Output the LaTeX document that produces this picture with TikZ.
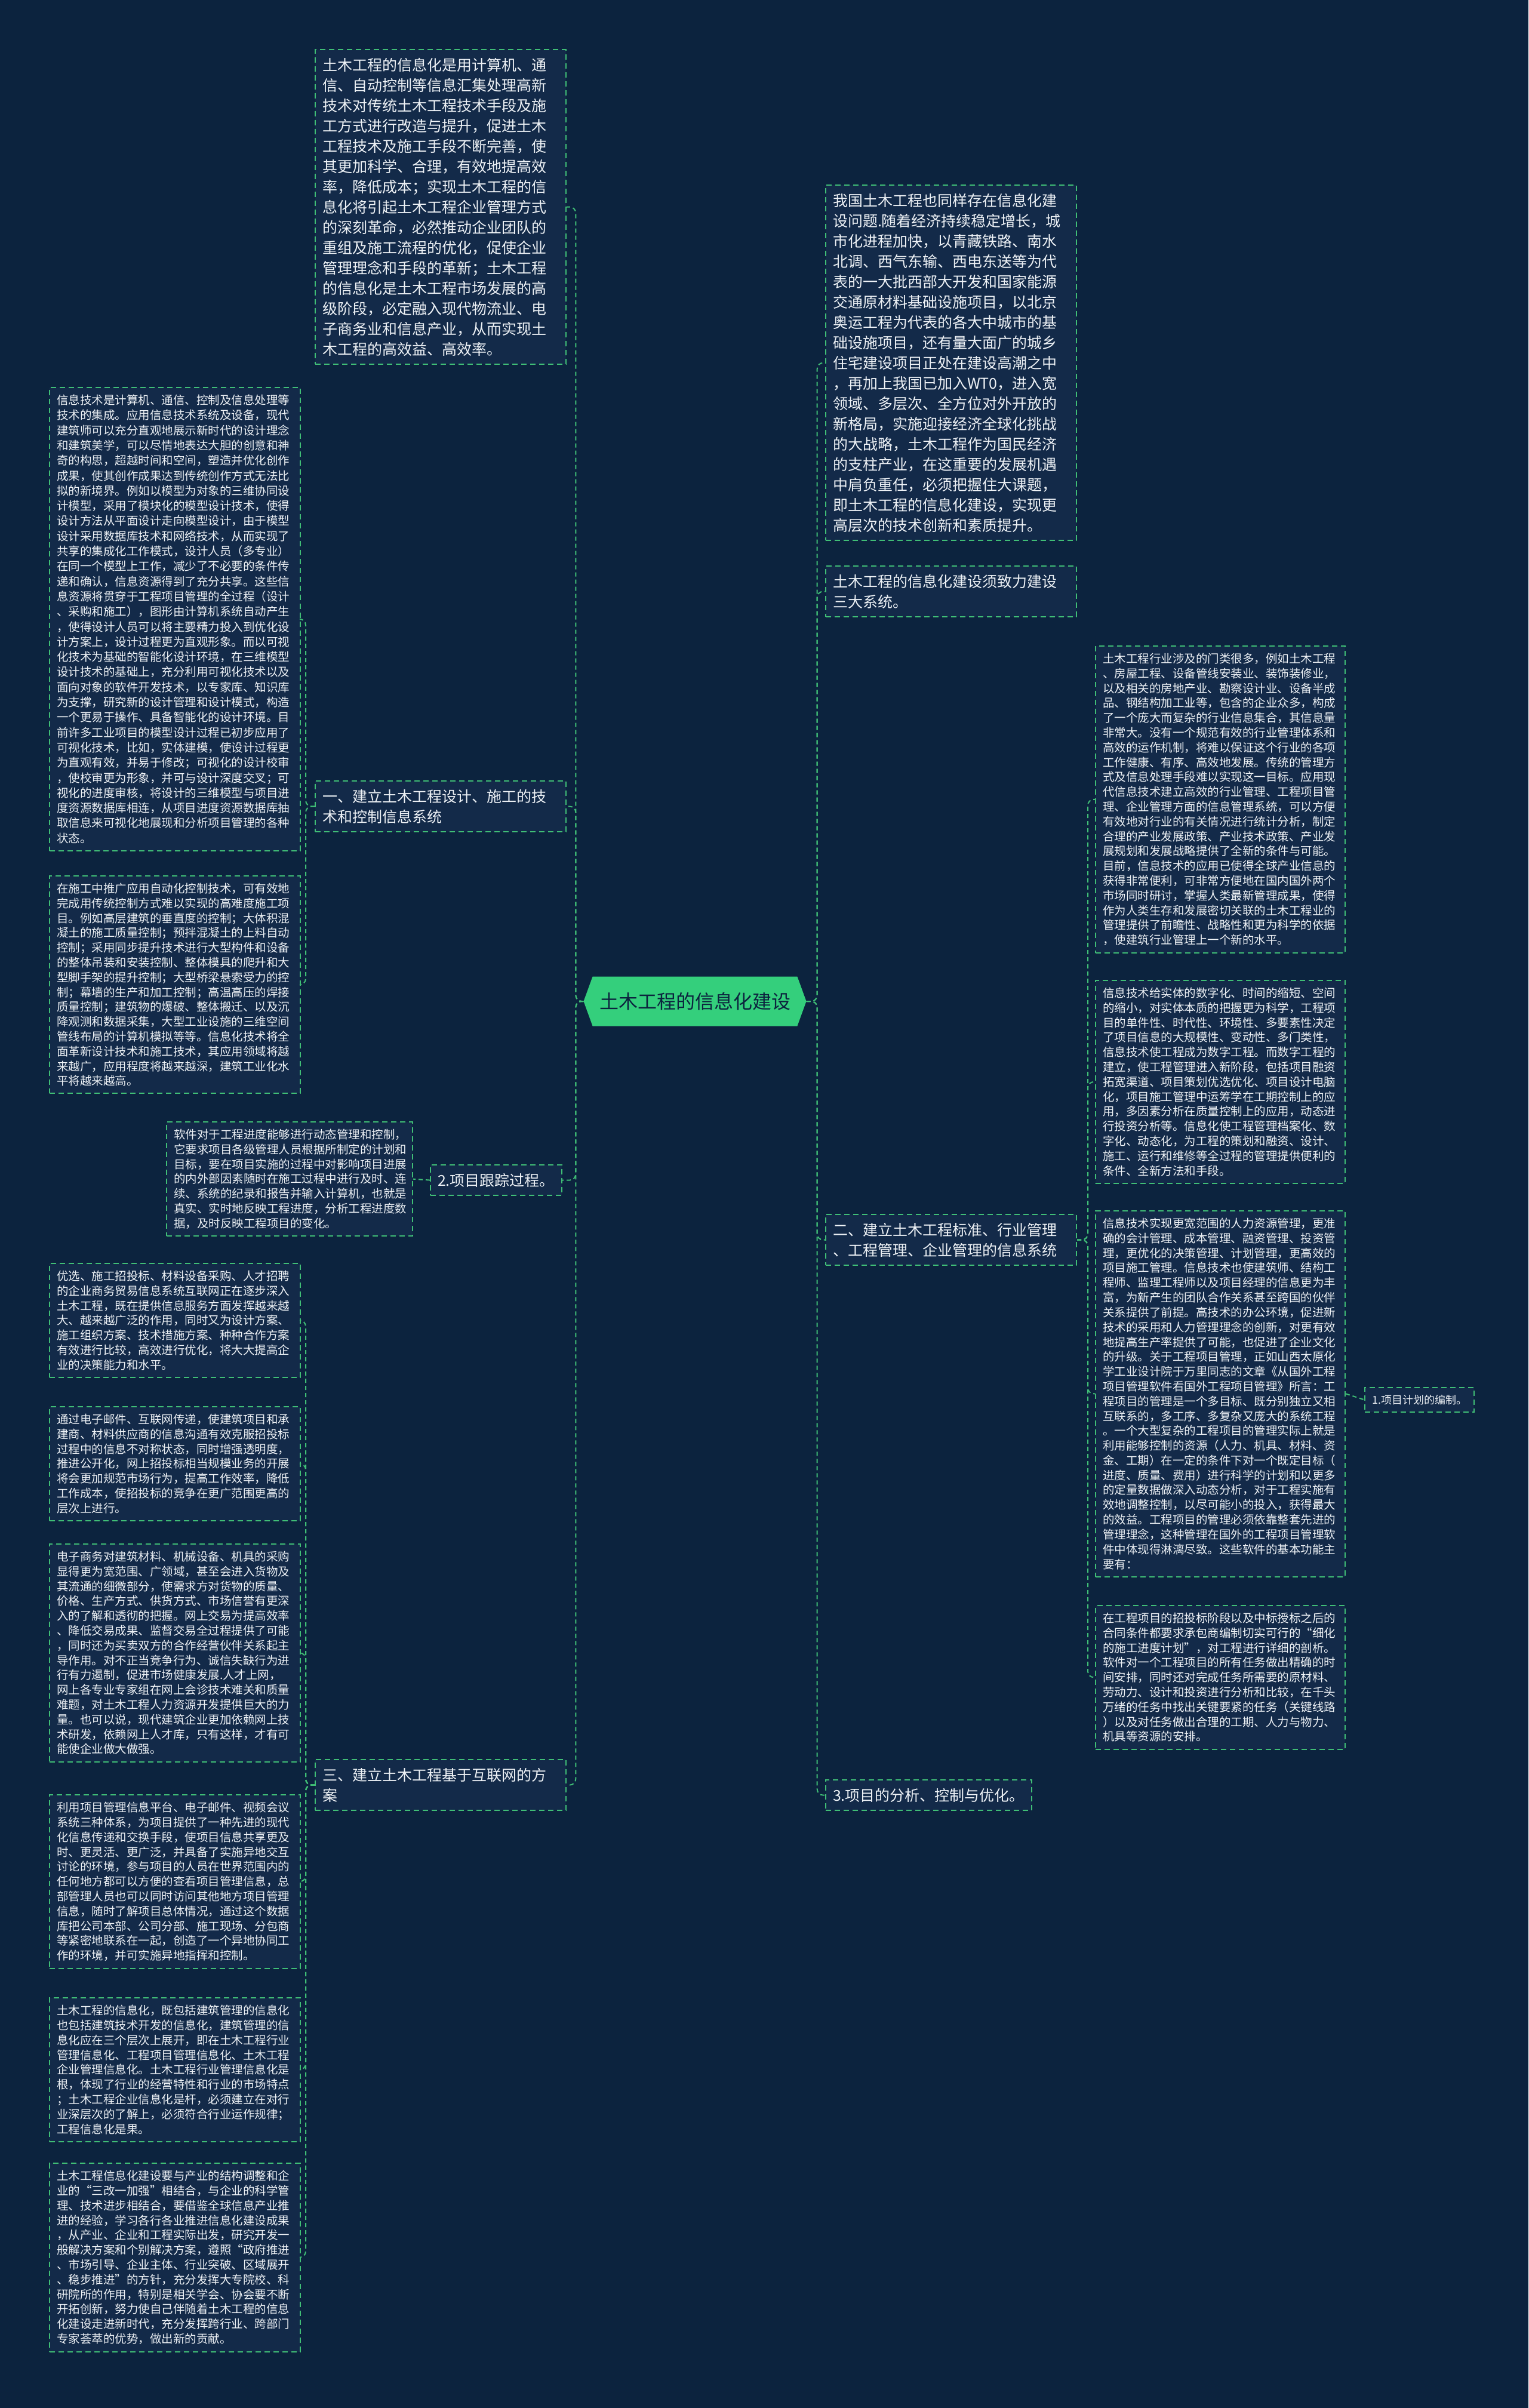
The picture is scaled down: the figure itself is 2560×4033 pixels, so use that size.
\documentclass[tikz,border=0pt]{standalone}
\usepackage{fontspec}
\newfontfamily\zhfont{Noto Sans CJK SC}
\usetikzlibrary{shapes.symbols}
\definecolor{bgnavy}{RGB}{12,35,62}
\definecolor{cardnavy}{RGB}{19,42,73}
\definecolor{linegreen}{RGB}{64,190,118}
\definecolor{hubgreen}{RGB}{52,207,124}
\definecolor{txtwhite}{RGB}{238,242,246}

\begin{document}
\begin{tikzpicture}[
  x=1pt, y=-1pt,
  every node/.style={text=txtwhite},
  hub/.style={shape=signal, signal to=east and west, signal pointer angle=140, fill=hubgreen, text=bgnavy, font={\zhfont\fontsize{32}{36}\selectfont}, minimum width=373pt, minimum height=83pt, inner sep=0pt},
  card/.style={draw=linegreen, fill=cardnavy, line width=2pt, dash pattern=on 9pt off 6pt, anchor=north west, align=left, inner xsep=12pt, inner ysep=12pt},
  bigcard/.style={card, text width=396pt, inner ysep=14pt, font={\zhfont\fontsize{25}{34}\selectfont}},
  labelcard/.style={card, inner ysep=14pt, font={\zhfont\fontsize{25}{34}\selectfont}},
  smallcard/.style={card, text width=396pt, font={\zhfont\fontsize{19.5}{24.8}\selectfont}},
  tinycard/.style={card, font={\zhfont\fontsize{18}{22}\selectfont}},
  conn/.style={draw=linegreen, line width=2pt, dash pattern=on 7pt off 5pt, rounded corners=10pt}
]
  \fill[bgnavy] (0,0) rectangle (2560,4033);
  \useasboundingbox (0,0) rectangle (2560,4033);

  \node[hub] (root) at (1164,1677) {土木工程的信息化建设};

  \node[bigcard] (lead) at (527,82) {土木工程的信息化是用计算机、通\\信、自动控制等信息汇集处理高新\\技术对传统土木工程技术手段及施\\工方式进行改造与提升，促进土木\\工程技术及施工手段不断完善，使\\其更加科学、合理，有效地提高效\\率，降低成本；实现土木工程的信\\息化将引起土木工程企业管理方式\\的深刻革命，必然推动企业团队的\\重组及施工流程的优化，促使企业\\管理理念和手段的革新；土木工程\\的信息化是土木工程市场发展的高\\级阶段，必定融入现代物流业、电\\子商务业和信息产业，从而实现土\\木工程的高效益、高效率。};
  \node[bigcard] (design) at (527,1307) {一、建立土木工程设计、施工的技\\术和控制信息系统};
  \node[labelcard] (track) at (720,1950) {2.项目跟踪过程。};
  \node[bigcard] (web) at (527,2946) {三、建立土木工程基于互联网的方\\案};

  \node[smallcard, font={\zhfont\fontsize{19.5}{25.3}\selectfont}] (model) at (82,648) {信息技术是计算机、通信、控制及信息处理等\\技术的集成。应用信息技术系统及设备，现代\\建筑师可以充分直观地展示新时代的设计理念\\和建筑美学，可以尽情地表达大胆的创意和神\\奇的构思，超越时间和空间，塑造并优化创作\\成果，使其创作成果达到传统创作方式无法比\\拟的新境界。例如以模型为对象的三维协同设\\计模型，采用了模块化的模型设计技术，使得\\设计方法从平面设计走向模型设计，由于模型\\设计采用数据库技术和网络技术，从而实现了\\共享的集成化工作模式，设计人员（多专业）\\在同一个模型上工作，减少了不必要的条件传\\递和确认，信息资源得到了充分共享。这些信\\息资源将贯穿于工程项目管理的全过程（设计\\、采购和施工），图形由计算机系统自动产生\\，使得设计人员可以将主要精力投入到优化设\\计方案上，设计过程更为直观形象。而以可视\\化技术为基础的智能化设计环境，在三维模型\\设计技术的基础上，充分利用可视化技术以及\\面向对象的软件开发技术，以专家库、知识库\\为支撑，研究新的设计管理和设计模式，构造\\一个更易于操作、具备智能化的设计环境。目\\前许多工业项目的模型设计过程已初步应用了\\可视化技术，比如，实体建模，使设计过程更\\为直观有效，并易于修改；可视化的设计校审\\，使校审更为形象，并可与设计深度交叉；可\\视化的进度审核，将设计的三维模型与项目进\\度资源数据库相连，从项目进度资源数据库抽\\取信息来可视化地展现和分析项目管理的各种\\状态。};
  \node[smallcard] (auto) at (82,1466) {在施工中推广应用自动化控制技术，可有效地\\完成用传统控制方式难以实现的高难度施工项\\目。例如高层建筑的垂直度的控制；大体积混\\凝土的施工质量控制；预拌混凝土的上料自动\\控制；采用同步提升技术进行大型构件和设备\\的整体吊装和安装控制、整体模具的爬升和大\\型脚手架的提升控制；大型桥梁悬索受力的控\\制；幕墙的生产和加工控制；高温高压的焊接\\质量控制；建筑物的爆破、整体搬迁、以及沉\\降观测和数据采集，大型工业设施的三维空间\\管线布局的计算机模拟等等。信息化技术将全\\面革新设计技术和施工技术，其应用领域将越\\来越广，应用程度将越来越深，建筑工业化水\\平将越来越高。};
  \node[smallcard, text width=388pt] (soft) at (278,1878) {软件对于工程进度能够进行动态管理和控制，\\它要求项目各级管理人员根据所制定的计划和\\目标，要在项目实施的过程中对影响项目进展\\的内外部因素随时在施工过程中进行及时、连\\续、系统的纪录和报告并输入计算机，也就是\\真实、实时地反映工程进度，分析工程进度数\\据，及时反映工程项目的变化。};

  \node[smallcard] (bid) at (82,2115) {优选、施工招投标、材料设备采购、人才招聘\\的企业商务贸易信息系统互联网正在逐步深入\\土木工程，既在提供信息服务方面发挥越来越\\大、越来越广泛的作用，同时又为设计方案、\\施工组织方案、技术措施方案、种种合作方案\\有效进行比较，高效进行优化，将大大提高企\\业的决策能力和水平。};
  \node[smallcard] (mail) at (82,2355) {通过电子邮件、互联网传递，使建筑项目和承\\建商、材料供应商的信息沟通有效克服招投标\\过程中的信息不对称状态，同时增强透明度，\\推进公开化，网上招投标相当规模业务的开展\\将会更加规范市场行为，提高工作效率，降低\\工作成本，使招投标的竞争在更广范围更高的\\层次上进行。};
  \node[smallcard] (ecom) at (82,2585) {电子商务对建筑材料、机械设备、机具的采购\\显得更为宽范围、广领域，甚至会进入货物及\\其流通的细微部分，使需求方对货物的质量、\\价格、生产方式、供货方式、市场信誉有更深\\入的了解和透彻的把握。网上交易为提高效率\\、降低交易成果、监督交易全过程提供了可能\\，同时还为买卖双方的合作经营伙伴关系起主\\导作用。对不正当竞争行为、诚信失缺行为进\\行有力遏制，促进市场健康发展.人才上网，\\网上各专业专家组在网上会诊技术难关和质量\\难题，对土木工程人力资源开发提供巨大的力\\量。也可以说，现代建筑企业更加依赖网上技\\术研发，依赖网上人才库，只有这样，才有可\\能使企业做大做强。};
  \node[smallcard] (platform) at (82,3005) {利用项目管理信息平台、电子邮件、视频会议\\系统三种体系，为项目提供了一种先进的现代\\化信息传递和交换手段，使项目信息共享更及\\时、更灵活、更广泛，并具备了实施异地交互\\讨论的环境，参与项目的人员在世界范围内的\\任何地方都可以方便的查看项目管理信息，总\\部管理人员也可以同时访问其他地方项目管理\\信息，随时了解项目总体情况，通过这个数据\\库把公司本部、公司分部、施工现场、分包商\\等紧密地联系在一起，创造了一个异地协同工\\作的环境，并可实施异地指挥和控制。};
  \node[smallcard] (levels) at (82,3345) {土木工程的信息化，既包括建筑管理的信息化\\也包括建筑技术开发的信息化，建筑管理的信\\息化应在三个层次上展开，即在土木工程行业\\管理信息化、工程项目管理信息化、土木工程\\企业管理信息化。土木工程行业管理信息化是\\根，体现了行业的经营特性和行业的市场特点\\；土木工程企业信息化是杆，必须建立在对行\\业深层次的了解上，必须符合行业运作规律；\\工程信息化是果。};
  \node[smallcard] (policy) at (82,3622) {土木工程信息化建设要与产业的结构调整和企\\业的“三改一加强”相结合，与企业的科学管\\理、技术进步相结合，要借鉴全球信息产业推\\进的经验，学习各行各业推进信息化建设成果\\，从产业、企业和工程实际出发，研究开发一\\般解决方案和个别解决方案，遵照“政府推进\\、市场引导、企业主体、行业突破、区域展开\\、稳步推进”的方针，充分发挥大专院校、科\\研院所的作用，特别是相关学会、协会要不断\\开拓创新，努力使自己伴随着土木工程的信息\\化建设走进新时代，充分发挥跨行业、跨部门\\专家荟萃的优势，做出新的贡献。};

  \node[bigcard] (china) at (1382,309) {我国土木工程也同样存在信息化建\\设问题.随着经济持续稳定增长，城\\市化进程加快，以青藏铁路、南水\\北调、西气东输、西电东送等为代\\表的一大批西部大开发和国家能源\\交通原材料基础设施项目，以北京\\奥运工程为代表的各大中城市的基\\础设施项目，还有量大面广的城乡\\住宅建设项目正处在建设高潮之中\\，再加上我国已加入WT0，进入宽\\领域、多层次、全方位对外开放的\\新格局，实施迎接经济全球化挑战\\的大战略，土木工程作为国民经济\\的支柱产业，在这重要的发展机遇\\中肩负重任，必须把握住大课题，\\即土木工程的信息化建设，实现更\\高层次的技术创新和素质提升。};
  \node[bigcard] (three) at (1382,947) {土木工程的信息化建设须致力建设\\三大系统。};
  \node[bigcard] (std) at (1382,2033) {二、建立土木工程标准、行业管理\\、工程管理、企业管理的信息系统};
  \node[labelcard] (analyse) at (1382,2980) {3.项目的分析、控制与优化。};

  \node[smallcard, text width=394pt] (trade) at (1834,1081) {土木工程行业涉及的门类很多，例如土木工程\\、房屋工程、设备管线安装业、装饰装修业，\\以及相关的房地产业、勘察设计业、设备半成\\品、钢结构加工业等，包含的企业众多，构成\\了一个庞大而复杂的行业信息集合，其信息量\\非常大。没有一个规范有效的行业管理体系和\\高效的运作机制，将难以保证这个行业的各项\\工作健康、有序、高效地发展。传统的管理方\\式及信息处理手段难以实现这一目标。应用现\\代信息技术建立高效的行业管理、工程项目管\\理、企业管理方面的信息管理系统，可以方便\\有效地对行业的有关情况进行统计分析，制定\\合理的产业发展政策、产业技术政策、产业发\\展规划和发展战略提供了全新的条件与可能。\\目前，信息技术的应用已使得全球产业信息的\\获得非常便利，可非常方便地在国内国外两个\\市场同时研讨，掌握人类最新管理成果，使得\\作为人类生存和发展密切关联的土木工程业的\\管理提供了前瞻性、战略性和更为科学的依据\\，使建筑行业管理上一个新的水平。};
  \node[smallcard, text width=394pt] (digital) at (1834,1641) {信息技术给实体的数字化、时间的缩短、空间\\的缩小，对实体本质的把握更为科学，工程项\\目的单件性、时代性、环境性、多要素性决定\\了项目信息的大规模性、变动性、多门类性，\\信息技术使工程成为数字工程。而数字工程的\\建立，使工程管理进入新阶段，包括项目融资\\拓宽渠道、项目策划优选优化、项目设计电脑\\化，项目施工管理中运筹学在工期控制上的应\\用，多因素分析在质量控制上的应用，动态进\\行投资分析等。信息化使工程管理档案化、数\\字化、动态化，为工程的策划和融资、设计、\\施工、运行和维修等全过程的管理提供便利的\\条件、全新方法和手段。};
  \node[smallcard, text width=394pt] (manage) at (1834,2027) {信息技术实现更宽范围的人力资源管理，更准\\确的会计管理、成本管理、融资管理、投资管\\理，更优化的决策管理、计划管理，更高效的\\项目施工管理。信息技术也使建筑师、结构工\\程师、监理工程师以及项目经理的信息更为丰\\富，为新产生的团队合作关系甚至跨国的伙伴\\关系提供了前提。高技术的办公环境，促进新\\技术的采用和人力管理理念的创新，对更有效\\地提高生产率提供了可能，也促进了企业文化\\的升级。关于工程项目管理，正如山西太原化\\学工业设计院于万里同志的文章《从国外工程\\项目管理软件看国外工程项目管理》所言：工\\程项目的管理是一个多目标、既分别独立又相\\互联系的，多工序、多复杂又庞大的系统工程\\。一个大型复杂的工程项目的管理实际上就是\\利用能够控制的资源（人力、机具、材料、资\\金、工期）在一定的条件下对一个既定目标（\\进度、质量、费用）进行科学的计划和以更多\\的定量数据做深入动态分析，对于工程实施有\\效地调整控制，以尽可能小的投入，获得最大\\的效益。工程项目的管理必须依靠整套先进的\\管理理念，这种管理在国外的工程项目管理软\\件中体现得淋漓尽致。这些软件的基本功能主\\要有：};
  \node[smallcard, text width=394pt] (schedule) at (1834,2688) {在工程项目的招投标阶段以及中标授标之后的\\合同条件都要求承包商编制切实可行的“细化\\的施工进度计划”，对工程进行详细的剖析。\\软件对一个工程项目的所有任务做出精确的时\\间安排，同时还对完成任务所需要的原材料、\\劳动力、设计和投资进行分析和比较，在千头\\万绪的任务中找出关键要紧的任务（关键线路\\）以及对任务做出合理的工期、人力与物力、\\机具等资源的安排。};
  \node[tinycard] (plan) at (2285,2323) {1.项目计划的编制。};

  \draw[conn] (root.west) -- ++(-13,0) |- (lead.east);
  \draw[conn] (root.west) -- ++(-13,0) |- (design.east);
  \draw[conn] (root.west) -- ++(-13,0) |- (track.east);
  \draw[conn] (root.west) -- ++(-13,0) |- (web.east);
  \draw[conn] (root.east) -- ++(18,0) |- (china.west);
  \draw[conn] (root.east) -- ++(18,0) |- (three.west);
  \draw[conn] (root.east) -- ++(18,0) |- (std.west);
  \draw[conn] (root.east) -- ++(18,0) |- (analyse.west);

  \draw[conn] (design.west) -- ++(-15,0) |- (model.east);
  \draw[conn] (design.west) -- ++(-15,0) |- (auto.east);
  \draw[conn] (track.west) -- (soft.east);
  \draw[conn] (web.west) -- ++(-15,0) |- (bid.east);
  \draw[conn] (web.west) -- ++(-15,0) |- (mail.east);
  \draw[conn] (web.west) -- ++(-15,0) |- (ecom.east);
  \draw[conn] (web.west) -- ++(-15,0) |- (platform.east);
  \draw[conn] (web.west) -- ++(-15,0) |- (levels.east);
  \draw[conn] (web.west) -- ++(-15,0) |- (policy.east);

  \draw[conn] (std.east) -- ++(18,0) |- (trade.west);
  \draw[conn] (std.east) -- ++(18,0) |- (digital.west);
  \draw[conn] (std.east) -- ++(18,0) |- (manage.west);
  \draw[conn] (std.east) -- ++(18,0) |- (schedule.west);
  \draw[conn] (manage.east) -- (plan.west);
\end{tikzpicture}
\end{document}
